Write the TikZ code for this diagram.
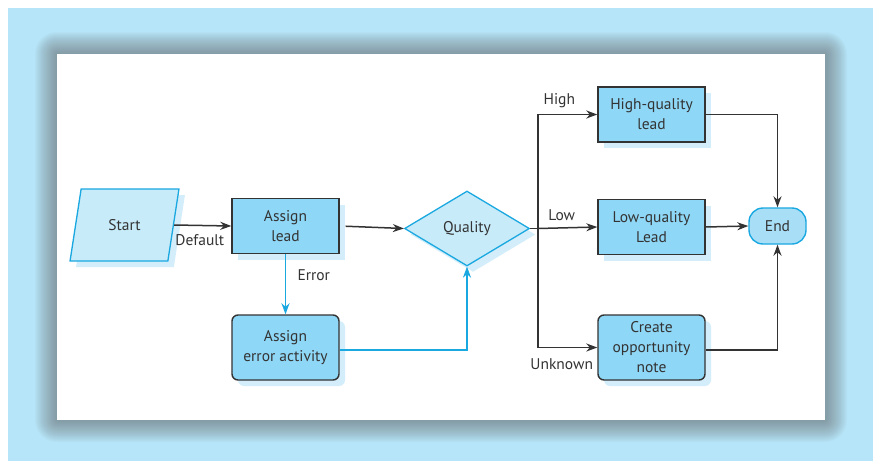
\documentclass[tikz,border=0pt]{standalone}
\usepackage{fontspec}
\setmainfont{PT Sans}
\usepackage{tikz}
\usetikzlibrary{positioning,arrows.meta,shapes.geometric,shadows}
\definecolor{pageblue}{HTML}{B6E4F8}
\definecolor{boxblue}{HTML}{8FD7F6}
\definecolor{paleblue}{HTML}{C8EBFA}
\definecolor{shadeblue}{HTML}{A8DFF7}
\definecolor{lineblue}{HTML}{1AA8E0}
\definecolor{inkgray}{HTML}{333333}

\begin{document}
\begin{tikzpicture}[
    x=1pt, y=-1pt,
    font=\fontsize{15.5}{20}\selectfont, text=inkgray,
    every shadow/.style={fill=shadeblue, shadow xshift=6pt, shadow yshift=-6pt},
    taskbox/.style={rectangle, draw=inkgray, fill=boxblue, line width=1.4pt,
        minimum width=107pt, minimum height=55pt, align=center, inner sep=2pt, drop shadow},
    roundtask/.style={taskbox, rounded corners=6pt, minimum height=65pt},
    decision/.style={diamond, draw=lineblue, fill=paleblue, line width=1.3pt,
        aspect=1.67, minimum width=125pt, minimum height=75pt, inner sep=0pt, drop shadow},
    inputnode/.style={trapezium, trapezium left angle=74.5, trapezium right angle=105.5,
        trapezium stretches=true, draw=lineblue, fill=paleblue, line width=1.3pt,
        minimum width=109pt, minimum height=72pt, drop shadow},
    endnode/.style={rectangle, rounded corners=14pt, draw=lineblue, fill=shadeblue,
        line width=1.4pt, minimum width=57pt, minimum height=36pt},
    flow/.style={-{Stealth[length=11pt, width=8pt, inset=3.5pt]}, draw=inkgray, line width=1.5pt},
    errflow/.style={flow, draw=lineblue},
    plain/.style={draw=inkgray, line width=1.5pt}
    ]
        \useasboundingbox (0,0) rectangle (876,461);

        %Page and panel
        \fill[white] (0,0) rectangle (876,461);
        \fill[pageblue] (8,8) rectangle (873,461);
        \foreach \d in {1,...,22}
            \fill[black!60, opacity=0.032, rounded corners=\d pt]
                (57-\d,54-\d) rectangle (825+\d,420+\d);
        \fill[white] (57,54) rectangle (825,420);

        %Nodes
        \node[inputnode]    (start)     at (124.5,225)  {Start};
        \node[taskbox]      (assign)    at (285.5,226)  {Assign\\lead};
        \node[roundtask]    (errtask)   at (285.5,347.5) {Assign\\error activity};
        \node[decision]     (quality)   at (467,228.5)  {Quality};
        \node[taskbox]      (highlead)  at (651.5,114.5) {High-quality\\lead};
        \node[taskbox]      (lowlead)   at (651.5,227)  {Low-quality\\Lead};
        \node[roundtask]    (oppnote)   at (651.5,347.5) {Create\\opportunity\\note};
        \node[endnode]      (finish)    at (777.5,226)  {End};
        \coordinate         (fork)      at (538,228.5);

        %Lines
        \draw[flow] (start.east) -- node[pos=0.45, below=5pt] {Default} (assign.west);
        \draw[flow, shorten <=6pt] (assign.east) -- (quality.west);
        \draw[errflow] (assign.south) -- node[right=8pt, pos=0.35] {Error} (errtask.north);
        \draw[errflow] (errtask.east |- 0,350) -| (quality.south);
        \draw[plain] (quality.east) -- (fork);
        \draw[flow] (fork) |- node[pos=0.68, above=3pt] {High} (highlead.west);
        \draw[flow] (fork) -- node[pos=0.4, above=3pt] {Low} (lowlead.west);
        \draw[flow] (fork) |- node[pos=0.7, below=7pt] {Unknown} (oppnote.west);
        \draw[flow] (highlead.east) -| (finish.north);
        \draw[flow] (lowlead.east) -- (finish.west);
        \draw[flow] (oppnote.east |- 0,350) -| (finish.south);
    \end{tikzpicture}
\end{document}
